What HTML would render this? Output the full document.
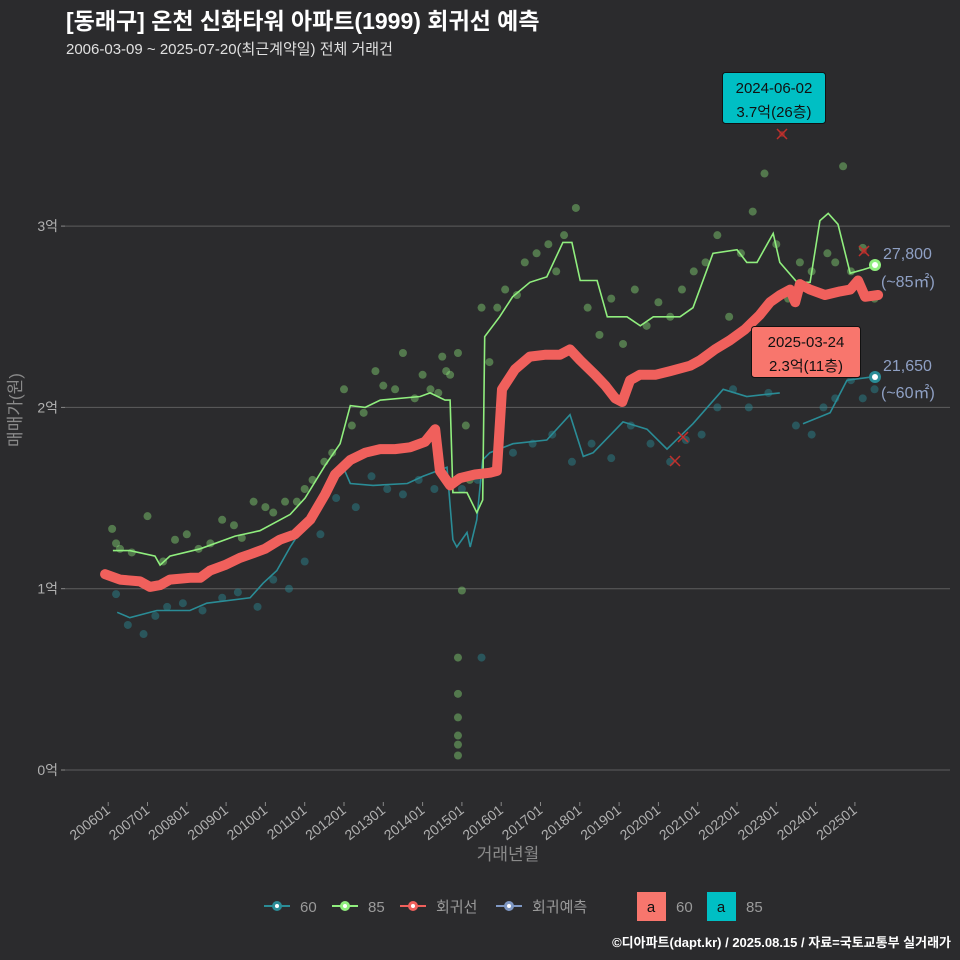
<!DOCTYPE html>
<html><head><meta charset="utf-8">
<style>
html,body{margin:0;padding:0;background:#2b2b2d;}
svg{display:block;font-family:"Liberation Sans","Noto Sans CJK KR",sans-serif;}
</style></head>
<body>
<svg id="chart" width="960" height="960" viewBox="0 0 960 960" xmlns="http://www.w3.org/2000/svg">
<rect width="960" height="960" fill="#2b2b2d"/>
<text x="66" y="29" fill="#ffffff" font-size="23" font-weight="bold">[동래구] 온천 신화타워 아파트(1999) 회귀선 예측</text>
<text x="66" y="54" fill="#e0e0e0" font-size="15">2006-03-09 ~ 2025-07-20(최근계약일) 전체 거래건</text>
<g id="grid"></g>
<g id="yaxis"></g>
<g id="xaxis"></g>
<g id="points"></g>
<g id="lines"></g>
<g id="annot"></g>
<text transform="translate(21,410) rotate(-90)" text-anchor="middle" fill="#8a8a8a" font-size="17">매매가(원)</text>
<text x="508" y="860" text-anchor="middle" fill="#8a8a8a" font-size="17">거래년월</text>
<g>
 <g><line x1="264" y1="906" x2="290" y2="906" stroke="#2a8c96" stroke-width="2"/><circle cx="277" cy="906" r="5" fill="#2a8c96"/><circle cx="277" cy="906" r="2" fill="#fff"/><text x="300" y="912" fill="#9a9a9a" font-size="15">60</text></g>
 <g><line x1="332" y1="906" x2="358" y2="906" stroke="#90ee7e" stroke-width="2"/><circle cx="345" cy="906" r="5" fill="#90ee7e"/><circle cx="345" cy="906" r="2" fill="#fff"/><text x="368" y="912" fill="#9a9a9a" font-size="15">85</text></g>
 <g><line x1="400" y1="906" x2="426" y2="906" stroke="#f0605c" stroke-width="2"/><circle cx="413" cy="906" r="5" fill="#f0605c"/><circle cx="413" cy="906" r="2" fill="#fff"/><text x="436" y="912" fill="#9a9a9a" font-size="15">회귀선</text></g>
 <g><line x1="496" y1="906" x2="522" y2="906" stroke="#7f98c4" stroke-width="2"/><circle cx="509" cy="906" r="5" fill="#7f98c4"/><circle cx="509" cy="906" r="2" fill="#fff"/><text x="532" y="912" fill="#9a9a9a" font-size="15">회귀예측</text></g>
 <g><rect x="637" y="892" width="29" height="29" fill="#f8766d"/><text x="651" y="912" text-anchor="middle" fill="#111" font-size="15">a</text><text x="676" y="912" fill="#9a9a9a" font-size="15">60</text></g>
 <g><rect x="707" y="892" width="29" height="29" fill="#00bfc4"/><text x="721" y="912" text-anchor="middle" fill="#111" font-size="15">a</text><text x="746" y="912" fill="#9a9a9a" font-size="15">85</text></g>
</g>
<text x="951" y="947" text-anchor="end" fill="#ffffff" font-size="13" font-weight="bold">©디아파트(dapt.kr) / 2025.08.15 / 자료=국토교통부 실거래가</text>
</svg>
<script>
const yTicks=[0,1,2,3];
const yTickLabels=["0억","1억","2억","3억"];
const xTickYears=[2006,2007,2008,2009,2010,2011,2012,2013,2014,2015,2016,2017,2018,2019,2020,2021,2022,2023,2024,2025];
const xTickLabels=["200601","200701","200801","200901","201001","201101","201201","201301","201401","201501","201601","201701","201801","201901","202001","202101","202201","202301","202401","202501"];
const regT=[2005.92,2006.30,2006.81,2007.06,2007.32,2007.57,2008.08,2008.34,2008.59,2008.97,2009.35,2009.61,2009.99,2010.37,2010.75,2011.14,2011.52,2011.77,2012.16,2012.54,2012.92,2013.30,2013.68,2014.06,2014.32,2014.44,2014.70,2014.95,2015.33,2015.72,2015.89,2016.02,2016.35,2016.73,2017.11,2017.49,2017.75,2018.01,2018.39,2018.65,2018.90,2019.08,2019.28,2019.53,2019.92,2020.30,2020.81,2021.06,2021.44,2021.82,2022.20,2022.58,2022.84,2023.10,2023.35,2023.48,2023.60,2023.86,2024.24,2024.62,2024.88,2025.08,2025.26,2025.59];
const regV=[1.08,1.05,1.04,1.01,1.02,1.05,1.06,1.06,1.10,1.13,1.17,1.19,1.22,1.27,1.30,1.38,1.52,1.63,1.71,1.75,1.77,1.77,1.78,1.81,1.88,1.65,1.57,1.61,1.63,1.64,1.65,2.10,2.21,2.28,2.29,2.29,2.32,2.26,2.18,2.12,2.05,2.03,2.15,2.18,2.18,2.20,2.23,2.26,2.32,2.37,2.43,2.51,2.58,2.62,2.65,2.58,2.68,2.65,2.62,2.64,2.65,2.70,2.61,2.62];
const g85T=[2006.12,2006.55,2007.19,2007.32,2007.57,2008.34,2009.23,2009.86,2010.63,2011.01,2011.52,2011.90,2012.16,2012.54,2012.92,2013.94,2014.19,2014.57,2014.70,2014.77,2015.13,2015.38,2015.53,2015.58,2015.96,2016.29,2016.73,2017.16,2017.57,2017.80,2018.01,2018.44,2018.70,2019.20,2019.54,2019.87,2020.55,2020.88,2021.39,2022.00,2022.25,2022.51,2022.92,2023.09,2023.53,2023.86,2024.11,2024.32,2024.57,2024.88,2025.21,2025.51];
const g85V=[1.21,1.21,1.18,1.13,1.18,1.22,1.29,1.32,1.41,1.50,1.68,1.80,2.01,2.00,2.04,2.06,2.08,2.04,2.04,1.53,1.53,1.42,1.49,2.39,2.50,2.61,2.69,2.72,2.91,2.91,2.70,2.70,2.50,2.50,2.45,2.50,2.50,2.55,2.85,2.87,2.80,2.80,2.96,2.80,2.69,2.69,3.03,3.07,3.01,2.74,2.76,2.78];
const t60T=[2006.23,2006.55,2007.24,2008.08,2008.51,2009.61,2009.94,2010.29,2010.63,2010.96,2011.31,2011.64,2011.98,2012.16,2012.74,2013.61,2014.01,2014.62,2014.77,2014.87,2015.13,2015.21,2015.38,2015.53,2015.71,2016.30,2017.16,2017.75,2018.09,2018.34,2019.10,2019.71,2020.22,2020.88,2021.65,2022.25,2023.09,null,2023.68,2024.37,2024.80,2025.51];
const t60V=[0.87,0.84,0.88,0.88,0.92,0.95,1.03,1.10,1.23,1.34,1.47,1.60,1.67,1.58,1.57,1.58,1.62,1.67,1.27,1.23,1.31,1.23,1.38,1.71,1.75,1.80,1.82,1.96,1.73,1.75,1.92,1.88,1.77,1.91,2.10,2.06,2.08,null,1.91,1.97,2.15,2.17];
const p85T=[2006.1,2006.2,2006.3,2006.6,2007.0,2007.4,2007.7,2008.0,2008.3,2008.6,2008.9,2009.2,2009.4,2009.7,2010.0,2010.2,2010.5,2010.8,2011.0,2011.2,2011.5,2011.7,2012.0,2012.2,2012.5,2012.8,2013.0,2013.3,2013.5,2013.8,2014.0,2014.2,2014.4,2014.5,2014.6,2014.7,2014.9,2015.1,2015.2,2015.5,2015.7,2015.9,2016.1,2016.4,2016.6,2016.9,2017.2,2017.4,2017.6,2017.9,2018.2,2018.5,2018.8,2019.1,2019.4,2019.7,2020.0,2020.3,2020.6,2020.9,2021.2,2021.5,2021.8,2022.1,2022.4,2022.7,2023.0,2023.3,2023.6,2023.9,2024.1,2024.3,2024.5,2024.7,2024.9,2025.2,2025.5,2014.9,2014.9,2014.9,2014.9,2014.9,2014.9,2015.0];
const p85V=[1.33,1.25,1.22,1.20,1.40,1.15,1.27,1.30,1.22,1.25,1.38,1.35,1.28,1.48,1.45,1.42,1.48,1.48,1.55,1.60,1.70,1.75,2.10,1.90,1.97,2.20,2.12,2.10,2.30,2.05,2.18,2.10,2.08,2.28,2.20,2.18,2.30,1.90,1.60,2.55,2.25,2.55,2.65,2.62,2.80,2.85,2.90,2.75,2.95,3.10,2.55,2.40,2.60,2.35,2.65,2.45,2.58,2.50,2.65,2.75,2.80,2.95,2.50,2.85,3.08,3.29,2.90,2.60,2.80,2.75,3.71,2.85,2.80,3.33,2.75,2.88,2.60,0.62,0.42,0.29,0.19,0.14,0.08,0.99];
const p60T=[2006.2,2006.5,2006.9,2007.2,2007.5,2007.9,2008.4,2008.9,2009.3,2009.8,2010.2,2010.6,2011.0,2011.4,2011.8,2012.3,2012.7,2013.1,2013.5,2013.9,2014.3,2014.6,2015.0,2015.4,2015.8,2016.3,2016.8,2017.3,2017.8,2018.3,2018.8,2019.3,2019.8,2020.3,2020.7,2021.1,2021.5,2021.9,2022.3,2022.8,2023.5,2023.9,2024.2,2024.5,2024.9,2025.2,2025.5,2015.5];
const p60V=[0.97,0.80,0.75,0.85,0.90,0.92,0.88,0.95,0.98,0.90,1.05,1.00,1.15,1.30,1.50,1.45,1.62,1.55,1.52,1.60,1.55,1.60,1.55,1.60,1.65,1.75,1.80,1.85,1.70,1.80,1.72,1.90,1.80,1.70,1.82,1.85,2.00,2.10,2.00,2.08,1.90,1.85,2.00,2.05,2.15,2.05,2.10,0.62];

const X=t=>108.2+(t-2006)*39.3;
const Y=v=>770-v*181.3;
const NS="http://www.w3.org/2000/svg";
function mk(tag,attrs,parent){const e=document.createElementNS(NS,tag);for(const k in attrs)e.setAttribute(k,attrs[k]);parent.appendChild(e);return e;}
const grid=document.getElementById('grid'),yax=document.getElementById('yaxis'),xax=document.getElementById('xaxis');
yTicks.forEach((v,i)=>{
  const l=mk('line',{x1:65,x2:950,y1:Y(v),y2:Y(v),stroke:'#5e5e5e','stroke-width':1},grid);
  
  
  mk('line',{x1:61,x2:65,y1:Y(v),y2:Y(v),stroke:'#888'},yax);
  const t=mk('text',{x:58,y:Y(v)+5,'text-anchor':'end',fill:'#b0b0b0','font-size':14},yax);
  t.textContent=yTickLabels[i];
  
  
});
xTickYears.forEach((yr,i)=>{
  const x=X(yr);
  mk('line',{x1:x,x2:x,y1:802,y2:806,stroke:'#888'},xax);
  const t=mk('text',{x:x+3,y:812,'text-anchor':'end',fill:'#b0b0b0','font-size':14,transform:`rotate(-38 ${x+3} 812)`},xax);
  t.textContent=xTickLabels[i];
  
  
});
const pts=document.getElementById('points');
p85T.forEach((t,i)=>{
  const c=mk('circle',{cx:X(t),cy:Y(p85V[i]),r:4,fill:'#90ee7e','fill-opacity':0.4},pts);
  
  
});
p60T.forEach((t,i)=>{
  const c=mk('circle',{cx:X(t),cy:Y(p60V[i]),r:4,fill:'#2a8c96','fill-opacity':0.45},pts);
  
  
});
function pathD(T,V){let d='',pen=false;T.forEach((t,i)=>{if(t===null){pen=false;return;}d+=(pen?'L':'M')+X(t).toFixed(1)+','+Y(V[i]).toFixed(1);pen=true;});return d;}
const lines=document.getElementById('lines');
const l60=mk('path',{d:pathD(t60T,t60V),fill:'none',stroke:'#2a8c96','stroke-width':1.6},lines);


const l85=mk('path',{d:pathD(g85T,g85V),fill:'none',stroke:'#90ee7e','stroke-width':1.6},lines);


const lr=mk('path',{d:pathD(regT,regV),fill:'none',stroke:'#f0605c','stroke-width':10,'stroke-linejoin':'round','stroke-linecap':'round'},lines);


const an=document.getElementById('annot');
an.innerHTML=`
<g stroke="#c0302c" stroke-width="1.5"><line x1="777" y1="129" x2="787" y2="139"/><line x1="787" y1="129" x2="777" y2="139"/><circle cx="782" cy="134" r="3" fill="#c0302c" fill-opacity="0.5" stroke="none"/></g>
<g stroke="#c0302c" stroke-width="1.5"><line x1="859" y1="246" x2="869" y2="256"/><line x1="869" y1="246" x2="859" y2="256"/><circle cx="864" cy="251" r="3" fill="#c0302c" fill-opacity="0.5" stroke="none"/></g>
<g stroke="#c0302c" stroke-width="1.5"><line x1="670" y1="456" x2="680" y2="466"/><line x1="680" y1="456" x2="670" y2="466"/></g>
<g stroke="#c0302c" stroke-width="1.5"><line x1="678" y1="432" x2="688" y2="442"/><line x1="688" y1="432" x2="678" y2="442"/></g>
<g><rect x="722.5" y="72.5" width="103" height="51" rx="3" fill="#00bfc4" stroke="#111"/><text x="774" y="93" text-anchor="middle" font-size="15" fill="#111">2024-06-02</text><text x="774" y="117" text-anchor="middle" font-size="15" fill="#111">3.7억(26층)</text></g>
<g><rect x="751.5" y="326.5" width="109" height="51" rx="3" fill="#f8766d" stroke="#111"/><text x="806" y="347" text-anchor="middle" font-size="15" fill="#111">2025-03-24</text><text x="806" y="371" text-anchor="middle" font-size="15" fill="#111">2.3억(11층)</text></g>
<g><circle cx="875" cy="265" r="6" fill="#90ee7e"/><circle cx="875" cy="265" r="3" fill="#fff"/></g>
<g><circle cx="875" cy="377" r="6" fill="#2a8c96"/><circle cx="875" cy="377" r="3" fill="#fff"/></g>
<text x="883" y="259" font-size="16" fill="#8fa0c4">27,800</text>
<text x="881" y="287" font-size="16" fill="#8fa0c4">(~85㎡)</text>
<text x="883" y="371" font-size="16" fill="#8fa0c4">21,650</text>
<text x="881" y="398" font-size="16" fill="#8fa0c4">(~60㎡)</text>`;
</script>
</body></html>
